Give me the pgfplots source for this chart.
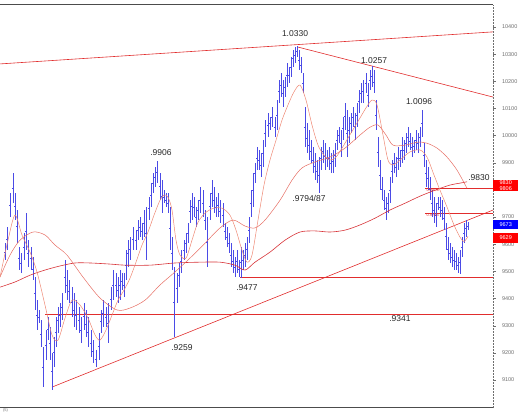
\documentclass[border=0pt]{standalone}
\usepackage{pgfplots}
\pgfplotsset{compat=1.18}
\usepackage{pgfplotstable}
\usepackage{fontspec}
\setmainfont{Liberation Sans}
\definecolor{barblue}{RGB}{75,75,230}
\definecolor{fastc}{RGB}{238,135,115}
\definecolor{medc}{RGB}{230,110,100}
\definecolor{longc}{RGB}{215,50,55}
\definecolor{trend}{RGB}{225,45,45}
\definecolor{tickgray}{RGB}{110,110,110}
\pgfplotstableread{
x h l
5 9604 9541
7 9663 9578
10 9788 9700
13 9862 9751
15 9788 9689
17 9726 9604
19 9589 9505
21 9567 9494
24 9641 9541
26 9715 9578
28 9615 9516
31 9589 9505
33 9552 9468
35 9479 9357
37 9394 9284
39 9357 9309
41 9320 9221
43 9221 9074
46 9284 9173
48 9331 9247
50 9295 9173
52 9199 9063
54 9258 9147
56 9331 9221
58 9368 9273
60 9383 9295
62 9420 9320
65 9541 9420
67 9505 9394
69 9468 9383
72 9442 9331
74 9420 9295
76 9394 9284
79 9368 9273
81 9331 9236
84 9383 9284
86 9357 9258
88 9331 9221
91 9284 9184
93 9247 9162
96 9210 9147
99 9273 9173
101 9357 9273
103 9394 9295
106 9368 9295
108 9383 9236
111 9442 9357
113 9505 9394
116 9494 9405
118 9479 9383
120 9505 9394
122 9494 9431
124 9494 9405
126 9578 9468
128 9615 9516
130 9626 9541
133 9663 9578
136 9652 9578
138 9689 9615
140 9700 9626
142 9678 9615
144 9726 9626
146 9737 9541
149 9773 9689
151 9825 9737
153 9862 9788
155 9884 9810
157 9906 9825
160 9862 9762
162 9836 9715
164 9799 9751
166 9788 9737
168 9788 9715
170 9737 9578
172 9626 9505
174 9516 9259
177 9494 9383
179 9530 9442
181 9578 9494
184 9615 9541
186 9641 9567
188 9678 9604
190 9762 9678
192 9788 9689
194 9773 9700
196 9737 9663
198 9762 9689
200 9810 9715
203 9799 9700
205 9726 9652
207 9700 9516
210 9788 9689
212 9836 9737
214 9810 9715
216 9773 9700
218 9788 9700
220 9762 9678
223 9751 9663
225 9678 9615
227 9663 9589
229 9641 9567
231 9604 9516
233 9578 9494
235 9552 9479
237 9578 9494
239 9541 9479
241 9589 9477
243 9578 9505
245 9604 9516
247 9626 9541
249 9700 9604
251 9799 9700
253 9862 9737
255 9899 9825
257 9958 9873
259 9947 9873
261 9936 9847
263 9983 9884
265 10057 9958
268 10083 9994
270 10068 10020
272 10105 10031
275 10068 9994
277 10131 10020
279 10204 10120
281 10230 10142
283 10204 10105
285 10215 10142
287 10267 10179
289 10252 10193
291 10289 10215
293 10315 10252
295 10326 10267
297 10330 10289
299 10315 10241
301 10289 10230
303 10230 10156
305 10105 9958
307 10046 9936
309 10020 9910
311 9983 9899
313 9958 9862
315 9936 9836
317 9910 9825
319 9921 9787
321 9958 9873
323 9983 9899
325 9972 9873
327 9947 9884
329 9958 9873
331 9936 9862
333 9947 9862
335 9972 9884
337 10020 9947
339 10031 9972
341 10020 9921
343 10068 9983
345 10120 10020
347 10094 9921
349 10068 9972
351 10083 10009
353 10105 10031
355 10083 9983
357 10120 10031
359 10168 10083
361 10193 10120
363 10204 10120
366 10230 10156
368 10193 10105
370 10241 10168
372 10257 10179
374 10241 10156
376 10131 10020
378 9994 9884
380 9910 9799
382 9847 9762
384 9799 9726
386 9773 9689
388 9788 9715
390 9847 9751
392 9910 9825
394 9936 9862
396 9921 9847
398 9958 9873
400 9947 9884
402 9994 9899
404 9983 9910
406 10009 9936
408 10031 9958
410 10009 9947
412 9994 9921
414 9983 9936
416 10020 9947
418 10009 9936
420 10031 9958
422 10096 9994
424 9972 9884
426 9910 9810
428 9884 9799
430 9847 9762
432 9799 9700
434 9773 9678
436 9751 9663
438 9773 9726
440 9773 9700
442 9762 9689
444 9737 9652
446 9678 9578
448 9626 9541
450 9604 9530
452 9589 9516
454 9578 9505
456 9567 9505
458 9552 9494
460 9578 9490
462 9626 9552
464 9678 9604
466 9689 9626
468 9682 9652
}\bars
\begin{document}
\begin{tikzpicture}
\begin{axis}[
  scale only axis, width=493pt, height=403pt,
  xmin=0, xmax=493, ymin=8997, ymax=10481,
  axis x line*=box, axis y line*=right,
  x axis line style={draw=black!70, line width=1pt},
  y axis line style={draw=tickgray, densely dotted, line width=0.5pt},
  xtick=\empty,
  ytick={9100,9200,9300,9400,9500,9600,9700,9900,10000,10100,10200,10300,10400},
  extra y ticks={9800}, extra y tick labels={},
  scaled y ticks=false,
  minor y tick num=4,
  yticklabel pos=right,
  tick align=outside,
  major tick length=2.5pt, minor tick length=1.2pt,
  tick style={tickgray, line width=0.4pt},
  yticklabel style={font=\fontsize{5.5}{6}\selectfont, text=tickgray, xshift=3pt},
  /pgf/number format/assume math mode=true,
  /pgf/number format/1000 sep={},
  clip mode=individual,
]
% trend and level lines
\addplot[trend, line width=0.6pt] coordinates {(0,10264) (493,10382)};
\addplot[trend, line width=0.6pt] coordinates {(298,10326) (493,10142)};
\addplot[trend, line width=0.6pt] coordinates {(52,9074) (493,9726)};
\addplot[trend, line width=0.6pt] coordinates {(45,9341) (493,9341)};
\addplot[trend, line width=0.6pt] coordinates {(240,9477) (493,9477)};
\addplot[trend, line width=0.6pt] coordinates {(425,9806) (493,9806)};
\addplot[trend, line width=0.6pt] coordinates {(425,9715) (493,9715)};
% bars
\addplot[only marks, mark=-, mark size=0.9pt, color=barblue,
  error bars/.cd, y dir=both, y explicit, error mark=none,
  error bar style={barblue, line width=0.45pt}]
  table[x=x, y expr={(\thisrow{h}+\thisrow{l})/2}, y error expr={(\thisrow{h}-\thisrow{l})/2}] {\bars};
% long MA
\addplot[longc, line width=0.6pt, smooth] coordinates {
(0,9442) (15,9461) (30,9486) (45,9505) (60,9520) (75,9531) (90,9531) (110,9527)
(125,9523) (150,9523) (175,9531) (200,9534) (220,9534) (235,9523) (245,9505)
(255,9534) (270,9571) (285,9615) (300,9645) (315,9649) (330,9645) (345,9652)
(360,9671) (375,9696) (390,9726) (405,9751) (420,9777) (435,9799) (450,9818)
(460,9825) (467,9830)};
% medium MA
\addplot[medc, line width=0.5pt, smooth] coordinates {
(0,9479) (10,9560) (20,9615) (33,9645) (45,9634) (55,9597) (67,9560) (83,9479)
(100,9402) (117,9358) (130,9365) (145,9394) (160,9450) (175,9498) (190,9549)
(205,9604) (220,9660) (233,9689) (245,9667) (255,9660) (265,9689) (280,9762)
(292,9836) (302,9881) (315,9903) (330,9921) (345,9954) (360,10002) (370,10031)
(378,10039) (386,10002) (393,9965) (405,9965) (418,9976) (427,9972) (437,9954)
(447,9921) (457,9873) (467,9806)};
% fast MA
\addplot[fastc, line width=0.5pt, smooth] coordinates {
(0,9479) (8,9615) (15,9707) (22,9634) (30,9571) (37,9498) (45,9376) (52,9266)
(58,9247) (65,9328) (72,9394) (80,9376) (88,9328) (95,9266) (100,9247) (106,9284)
(112,9339) (118,9394) (124,9431) (130,9475) (136,9534) (142,9597) (148,9645)
(154,9707) (160,9762) (164,9781) (168,9773) (172,9726) (176,9615) (180,9560)
(186,9549) (192,9615) (198,9681) (206,9718) (214,9733) (222,9733) (230,9707)
(236,9652) (242,9578) (247,9534) (252,9560) (258,9689) (264,9818) (270,9910)
(276,9983) (282,10057) (288,10113) (294,10161) (300,10186) (306,10131) (312,10039)
(318,9965) (324,9928) (330,9910) (336,9921) (342,9954) (348,9991) (354,10028)
(360,10065) (366,10102) (372,10131) (377,10113) (383,10002) (388,9910) (393,9892)
(400,9910) (410,9940) (420,9947) (427,9921) (434,9855) (440,9799) (447,9737)
(454,9671) (460,9626) (464,9610) (468,9629)};
% annotations
\tikzset{lab/.style={font=\fontsize{8.5}{9}\selectfont, text=black!85}}
\node[lab] at (axis cs:295,10374) {1.0330};
\node[lab] at (axis cs:374,10278) {1.0257};
\node[lab] at (axis cs:419,10124) {1.0096};
\node[lab] at (axis cs:161,9939) {.9906};
\node[lab] at (axis cs:309,9770) {.9794/87};
\node[lab] at (axis cs:247,9442) {.9477};
\node[lab] at (axis cs:182,9221) {.9259};
\node[lab] at (axis cs:400,9328) {.9341};
\node[lab] at (axis cs:479,9847) {.9830};
\node[font=\fontsize{4}{4}\selectfont, text=trend, anchor=west] at (axis cs:423,9798) {0.9806};
\node[font=\fontsize{4}{4}\selectfont, text=trend, anchor=west] at (axis cs:423,9706) {0.9715};
% right-side value boxes
\node[fill=red, text=white, font=\fontsize{5.5}{5.6}\selectfont, anchor=west, minimum width=25pt, inner sep=0.6pt, align=center] at (axis cs:493,9817) {9830\\9806};
\node[fill=blue, text=white, font=\fontsize{5.5}{6}\selectfont, anchor=west, minimum width=25pt, minimum height=9pt, inner sep=0.5pt] at (axis cs:493,9673) {9673};
\node[fill=red, text=white, font=\fontsize{5.5}{6}\selectfont, anchor=west, minimum width=25pt, minimum height=9.5pt, inner sep=0.5pt] at (axis cs:493,9623) {9629};
\node[font=\fontsize{4}{4}\selectfont, text=tickgray, anchor=north west, inner sep=0.5pt] at (rel axis cs:0.005,0) {(5)};
\end{axis}
\pgfresetboundingbox
\path (0pt,-6pt) rectangle (527pt,408pt);
\end{tikzpicture}
\end{document}
